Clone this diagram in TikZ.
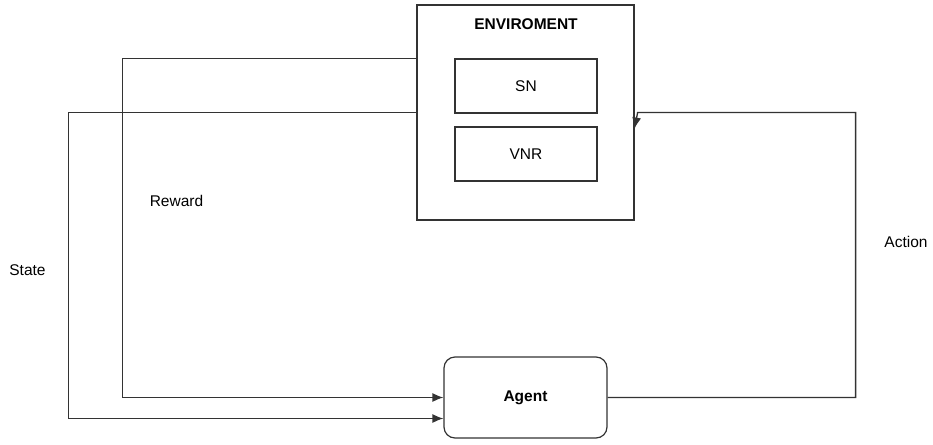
\documentclass[tikz,border=0pt]{standalone}
\usepackage{fontspec}
\setmainfont{Liberation Sans}
\usetikzlibrary{positioning,calc,arrows.meta}
\tikzset{
  >={Latex[length=11pt,width=9pt]},
}
\tikzstyle{every node}=[font=\fontsize{15.5}{19}\selectfont]
\tikzstyle{block}=[draw=black!80,line width=1.2pt,inner sep=0pt]
\tikzstyle{link}=[black!80,line width=1.3pt,->]

\begin{document}
\begin{tikzpicture}[x=1pt,y=-1pt]
    \useasboundingbox (0,0) rectangle (933,444);
    \node[block,minimum width=217,minimum height=215] (env) at (525.5,112.5) {};
    \node[font=\fontsize{15.5}{19}\selectfont\bfseries] (envtitle) at (526,24) {ENVIROMENT};
    \node[block,minimum width=142,minimum height=54] (sn) at (526,86) {SN};
    \node[block,minimum width=142,minimum height=54] (vnr) at (526,154) {VNR};
    \node[block,rounded corners=11,minimum width=163,minimum height=81,
      font=\fontsize{15.5}{19}\selectfont\bfseries] (agent) at (525.5,397.5) {Agent};

    \draw[link] (env.west |- sn.north) -- ++(-294,0) |- (agent.west);
    \draw[link] (env.west) -- ++(-348,0) |- ($(agent.west)+(0,21)$);
    \draw[link] (agent.east) -- ++(248,0) |- ($(env.east)+(3,0)$)
      -- ($(env.east)+(0,16)$);

    \node (reward) at (176.5,201) {Reward};
    \node (state) at (27.5,270) {State};
    \node (action) at (906,242) {Action};
  \end{tikzpicture}
\end{document}
